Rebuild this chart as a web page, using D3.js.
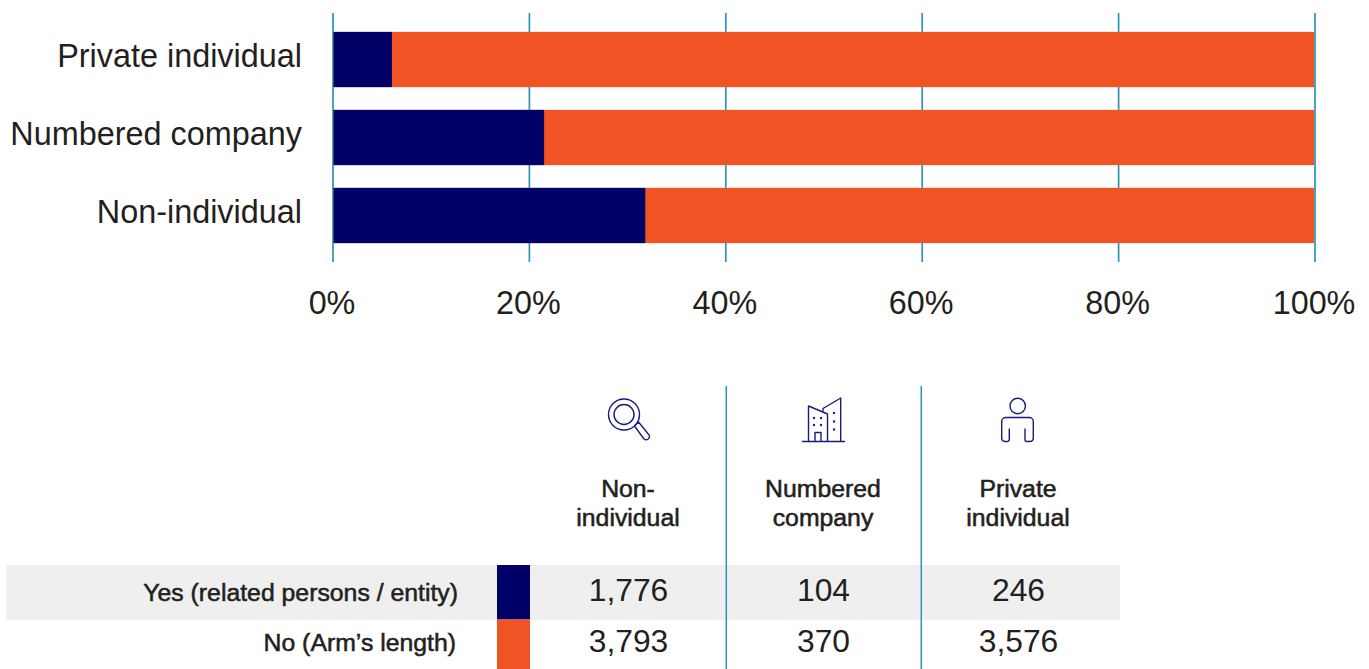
<!DOCTYPE html>
<html>
<head>
<meta charset="utf-8">
<style>
html,body{margin:0;padding:0;background:#fff;overflow:hidden}
text{font-family:"Liberation Sans",Arial,sans-serif;fill:#231f20}
</style>
<script src="https://cdn.jsdelivr.net/npm/d3@7/dist/d3.min.js"></script>
</head>
<body>
<svg id="chart" width="1369" height="669"></svg>
<script>
// Share of transactions with a related party, by buyer type
const categories = ["Private individual", "Numbered company", "Non-individual"];
const yesShare = [6.0, 21.5, 31.8];
const ticks = [0, 20, 40, 60, 80, 100];

// Count table below the chart
const tableColumns = [["Non-", "individual"], ["Numbered", "company"], ["Private", "individual"]];
const rowLabels = ["Yes (related persons / entity)", "No (Arm\u2019s length)"];
const yesCounts = ["1,776", "104", "246"];
const noCounts = ["3,793", "370", "3,576"];

const NAVY = "#000066", ORANGE = "#f15424", RULE = "#2a94b4", BAND = "#efefef", INK = "#231f20";

const svg = d3.select("#chart");

const x = d3.scaleLinear().domain([0, 100]).range([333, 1315]);
const y = d3.scaleBand().domain(categories).range([20.5, 254.5]).paddingInner(0.2917).paddingOuter(0.146);

// Value axis: ticks run the full height of the plot, behind the bars
const xAxis = d3.axisBottom(x).tickValues(ticks).tickFormat(d => d + "%")
  .tickSize(249).tickPadding(29).offset(0);
const gx = svg.append("g").attr("transform", "translate(0,13)").call(xAxis);
gx.select(".domain").remove();
gx.selectAll("line").attr("stroke", RULE).attr("stroke-width", 1.7);
gx.selectAll("text").attr("font-size", 32.3).attr("dx", -1).attr("fill", INK).attr("font-family", "Liberation Sans");

// Stacked bars
const bars = svg.append("g");
bars.selectAll("rect.no").data(categories).join("rect").attr("class", "no")
  .attr("x", x(0) + 0.5).attr("width", x(100) - x(0) - 1.5)
  .attr("y", d => y(d)).attr("height", y.bandwidth()).attr("fill", ORANGE);
bars.selectAll("rect.yes").data(categories).join("rect").attr("class", "yes")
  .attr("x", x(0) + 0.5).attr("width", (d, i) => x(yesShare[i]) - x(0) - 0.5)
  .attr("y", d => y(d)).attr("height", y.bandwidth()).attr("fill", NAVY);

// Category labels
const yAxis = d3.axisLeft(y).tickSize(0).tickPadding(31).offset(0);
const gy = svg.append("g").attr("transform", "translate(333,0)").call(yAxis);
gy.select(".domain").remove();
gy.selectAll("text").attr("font-size", 32.4).attr("dy", "0.23em").attr("fill", INK).attr("font-family", "Liberation Sans");

// Table
const col = d3.scaleBand().domain([0, 1, 2]).range([531, 1116]);
const rowY = d3.scaleOrdinal().domain([0, 1]).range([565, 619.5]);
const rowH = [54.5, 49.5];
const centre = i => col(i) + col.bandwidth() / 2;

svg.append("rect").attr("x", 6).attr("y", 565).attr("width", 1114).attr("height", 55).attr("fill", BAND);
[0, 1].forEach(i => {
  svg.append("rect").attr("x", 497).attr("y", rowY(i)).attr("width", 33).attr("height", rowH[i])
    .attr("fill", i === 0 ? NAVY : ORANGE);
});

svg.selectAll("line.sep").data([1, 2]).join("line").attr("class", "sep")
  .attr("x1", d => col(d) + 0.3).attr("x2", d => col(d) + 0.3).attr("y1", 386).attr("y2", 669)
  .attr("stroke", RULE).attr("stroke-width", 1.5);

// Column headers
const labelWeight = sel => sel.attr("font-size", 24.8).style("stroke", INK).style("stroke-width", 0.55);
tableColumns.forEach((lines, i) => {
  const t = svg.append("text").attr("text-anchor", "middle").call(labelWeight);
  lines.forEach((s, k) => t.append("tspan").attr("x", centre(i) - 0.5).attr("y", 497 + k * 29).text(s));
});

// Row labels and counts
svg.append("text").attr("x", 458).attr("y", 601).attr("text-anchor", "end").call(labelWeight).text(rowLabels[0]);
svg.append("text").attr("x", 456).attr("y", 651).attr("text-anchor", "end").call(labelWeight).text(rowLabels[1]);
[yesCounts, noCounts].forEach((row, r) => {
  svg.selectAll(null).data(row).join("text").attr("text-anchor", "middle").attr("font-size", 31.8)
    .attr("x", (d, i) => centre(i)).attr("y", r === 0 ? 601 : 652).text(d => d);
});

// Column icons
const iconStyle = g => g.attr("fill", "none").attr("stroke", "#1a1a80").attr("stroke-width", 1.4)
  .attr("stroke-linejoin", "round").attr("stroke-linecap", "round").attr("transform", "translate(590,385)");

const lens = svg.append("g").call(iconStyle);
lens.append("circle").attr("cx", 34).attr("cy", 29.5).attr("r", 15.5);
lens.append("circle").attr("cx", 34).attr("cy", 29.5).attr("r", 10);
lens.append("path").attr("d", "M44.5 41 L48.5 37 L58.3 49 A3 3 0 0 1 54 54 Z");

const city = svg.append("g").call(iconStyle);
city.append("path").attr("d", "M212.5 56.5 H254.5 M218.5 56.5 V21 L237.5 29 V56.5 M233 27 V23.5 L250.7 13 V56.5 M225 56.5 V47.5 H231 V56.5");
city.selectAll(null).data([[224, 33], [231, 33], [224, 40], [231, 40], [244, 28], [244, 36.5], [244, 44.5]])
  .join("circle").attr("cx", d => d[0]).attr("cy", d => d[1]).attr("r", 0.5);

const person = svg.append("g").call(iconStyle);
person.append("circle").attr("cx", 427.7).attr("cy", 21).attr("r", 7.7);
person.append("path").attr("d", "M417 56.5 H415 A3.5 3.5 0 0 1 411.7 53 V36.5 A4 4 0 0 1 415.7 32.5 H439.3 A4 4 0 0 1 443.3 36.5 V53 A3.5 3.5 0 0 1 440 56.5 H437 A2 2 0 0 1 435 54.5 V44 M419.3 44 V54.5 A2 2 0 0 1 417 56.5");
</script>
</body>
</html>
